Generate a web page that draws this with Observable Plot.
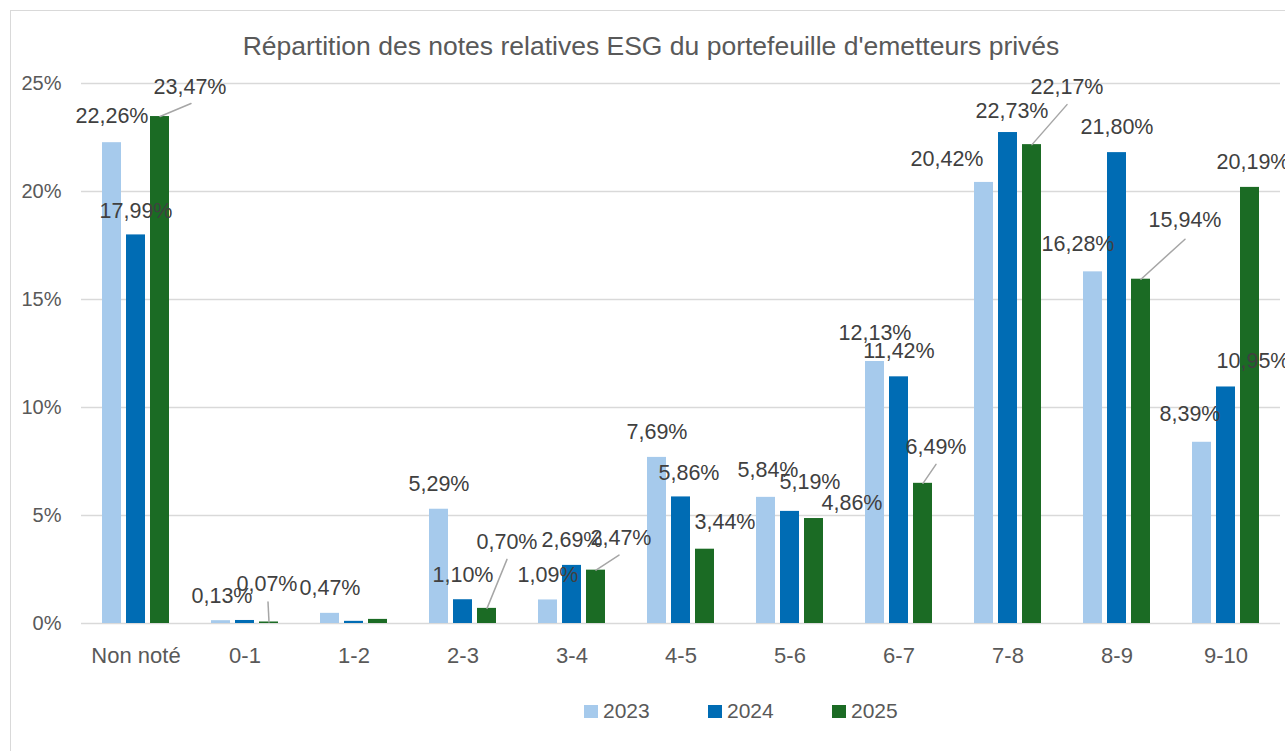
<!DOCTYPE html>
<html>
<head>
<meta charset="utf-8">
<script src="https://cdn.jsdelivr.net/npm/d3@7"></script>
<script src="https://cdn.jsdelivr.net/npm/@observablehq/plot@0.6"></script>
<style>
  html, body { margin: 0; padding: 0; background: #fff; }
  body { width: 1285px; height: 751px; position: relative; overflow: hidden; font-family: "Liberation Sans", Arial, sans-serif; }
  #frame { position: absolute; left: 10px; top: 10px; width: 1290px; height: 760px; border-left: 1px solid #d9d9d9; border-top: 1px solid #d9d9d9; }
  #title { position: absolute; left: 10px; width: 1282px; top: 31px; text-align: center; font-size: 26.5px; color: #595959; }
  #chart { position: absolute; left: 0; top: 0; }
  .leg { position: absolute; top: 699px; font-size: 21px; color: #595959; display: flex; align-items: center; }
  .leg span.sw { display: inline-block; width: 14px; height: 13px; margin-right: 5px; }
</style>
</head>
<body>
<div id="frame"></div>
<div id="chart"></div>
<div id="title">Répartition des notes relatives ESG du portefeuille d'emetteurs privés</div>
<div id="legend"></div>
<script>
// ---- Data ----
const categories = ["Non noté", "0-1", "1-2", "2-3", "3-4", "4-5", "5-6", "6-7", "7-8", "8-9", "9-10"];
const years = ["2023", "2024", "2025"];
const values2023 = [22.26, 0.13, 0.47, 5.29, 1.09, 7.69, 5.84, 12.13, 20.42, 16.28, 8.39];
const values2024 = [17.99, 0.14, 0.10, 1.10, 2.69, 5.86, 5.19, 11.42, 22.73, 21.80, 10.95];
const values2025 = [23.47, 0.07, 0.19, 0.70, 2.47, 3.44, 4.86, 6.49, 22.17, 15.94, 20.19];
const yTicks = [0, 5, 10, 15, 20, 25];
const colors = ["#a6caec", "#006cb4", "#1b6b24"];

// ---- Label placement (pixel nudges from the bar top; null = no label) ----
const nudge2023 = [[0,-27],[1,-25],[0,-25],[0,-25],[0,-25],[0,-25],[2,-27],[0,-28],[-37,-23],[-15,-28],[-12,-28]];
const nudge2024 = [[0,-24],null,null,[0,-25],[0,-25],[8,-24],[20,-29],[0,-26],[4,-21],[0,-26],[27,-26]];
const nudge2025 = [[30,-29],[-2,-38],null,[20,-66],[25,-32],[20,-27],[38,-15],[13,-36],[35,-58],[44,-59],[3,-25]];
// leader lines (2025 labels): end point relative to bar top
const leader2025 = [[31,-13],[-1,-20],null,[20,-49],[23,-15],null,null,[13,-19],[35,-40],[44,-40],null];

const series = [values2023, values2024, values2025];
const nudges = [nudge2023, nudge2024, nudge2025];
const leaders = [null, null, leader2025];

const rows = [];
categories.forEach((c, i) => years.forEach((y, j) => {
  rows.push({cat: c, year: y, value: series[j][i], nudge: nudges[j][i], leader: leaders[j] ? leaders[j][i] : null});
}));

const fmt = v => v.toFixed(2).replace(".", ",") + "%";

const lineShape = { draw(context, l) { context.moveTo(0, 0); context.lineTo(0, -l); } };

const labelMarks = rows.filter(d => d.nudge).map(d =>
  Plot.text([d], {fx: "cat", x: "year", y: "value", text: r => fmt(r.value),
    dx: d.nudge[0], dy: d.nudge[1], fontSize: 21.5, fill: "#404040"}));

const leaderMarks = rows.filter(d => d.leader).map(d => {
  const [ex, ey] = d.leader;
  const len = Math.hypot(ex, ey);
  const rot = Math.atan2(ex, -ey) * 180 / Math.PI;
  return Plot.vector([d], {fx: "cat", x: "year", y: "value", length: len, rotate: rot,
    anchor: "start", shape: lineShape, stroke: "#a6a6a6", strokeWidth: 1.5});
});

const chart = Plot.plot({
  width: 1285,
  height: 751,
  marginTop: 83,
  marginBottom: 128,
  marginLeft: 80,
  marginRight: 5,
  style: {fontFamily: "'Liberation Sans', Arial, sans-serif", fontSize: "20px", color: "#404040", background: "transparent", overflow: "visible"},
  fx: {domain: categories, padding: 0, label: null},
  x: {domain: years, paddingInner: 0.21, paddingOuter: 0.862, axis: null},
  y: {domain: [0, 25], label: null},
  color: {domain: years, range: colors},
  marks: [
    Plot.gridY(yTicks, {stroke: "#d9d9d9", strokeOpacity: 1, strokeWidth: 1.5}),
    Plot.axisY(yTicks, {tickSize: 0, tickPadding: 20, tickFormat: d => d + "%", fontSize: 20, color: "#595959", label: null}),
    Plot.axisFx({anchor: "bottom", tickSize: 0, tickPadding: 24, fontSize: 22, color: "#595959", label: null}),
    Plot.barY(rows, {fx: "cat", x: "year", y: "value", fill: "year"}),
    ...leaderMarks,
    ...labelMarks
  ]
});
document.getElementById("chart").appendChild(chart);

// ---- Legend ----
const legendLeft = [584, 708, 832];
const legend = document.getElementById("legend");
years.forEach((y, j) => {
  const item = document.createElement("div");
  item.className = "leg";
  item.style.left = legendLeft[j] + "px";
  item.innerHTML = `<span class="sw" style="background:${colors[j]}"></span>${y}`;
  legend.appendChild(item);
});
</script>
</body>
</html>
